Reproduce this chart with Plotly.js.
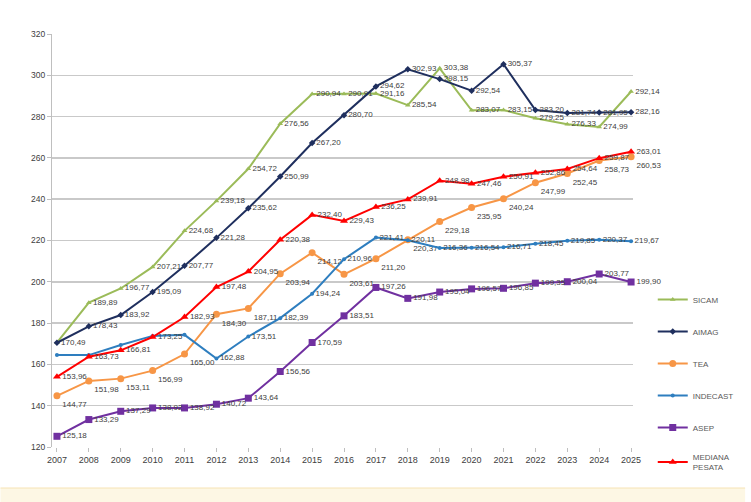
<!DOCTYPE html>
<html>
<head>
<meta charset="utf-8">
<script src="https://cdn.plot.ly/plotly-3.0.1.min.js"></script>
<style>
html,body{margin:0;padding:0;background:#fff;}
#chart{width:751px;height:502px;}
</style>
</head>
<body>
<div id="chart"></div>
<script>
const years = [2007,2008,2009,2010,2011,2012,2013,2014,2015,2016,2017,2018,2019,2020,2021,2022,2023,2024,2025];
const yTicks = [120,140,160,180,200,220,240,260,280,300,320];

const sicam    = [170.49,189.89,196.77,207.21,224.68,239.18,254.72,276.56,290.94,290.91,291.16,285.54,303.38,283.07,283.15,279.25,276.33,274.99,292.14];
const aimag    = [170.49,178.43,183.92,195.09,207.77,221.28,235.62,250.99,267.20,280.70,294.62,302.93,298.15,292.54,305.37,283.20,281.74,281.95,282.16];
const tea      = [144.77,151.98,153.11,156.99,165.00,184.30,187.11,203.94,214.12,203.61,211.20,220.37,229.18,235.95,240.24,247.99,252.45,258.73,260.53];
const indecast = [164.60,164.50,169.40,173.80,174.30,162.88,173.51,182.39,194.24,210.96,221.41,220.11,216.36,216.54,216.71,218.45,219.85,220.37,219.67];
const asep     = [125.18,133.29,137.29,138.92,138.92,140.72,143.64,156.56,170.59,183.51,197.26,191.98,195.04,196.57,196.85,199.35,200.04,203.77,199.90];
const mediana  = [153.96,163.73,166.81,173.25,182.93,197.48,204.95,220.38,232.40,229.43,236.25,239.91,248.98,247.46,250.91,252.86,254.64,259.87,263.01];

const seriesNames = ['SICAM','AIMAG','TEA','INDECAST','ASEP','MEDIANA<br>PESATA'];
// indices of points whose value label is not visible in the reference
const hiddenLabels = [[0], [], [], [0,1,2,3,4], [], []];

function fmt(v){ return v.toFixed(2).replace('.', ','); }

const styles = [
  {color:'#9bbb59', symbol:'triangle-up', size:5, labelPos:'middle right'},
  {color:'#1f2f5e', symbol:'diamond', size:5, labelPos:'middle right'},
  {color:'#f79646', symbol:'circle', size:7, labelPos:'bottom right'},
  {color:'#2e7ebf', symbol:'circle', size:4, labelPos:'middle right'},
  {color:'#7030a0', symbol:'square', size:7, labelPos:'middle right'},
  {color:'#ff0000', symbol:'triangle-up', size:7, labelPos:'middle right'}
];
const allSeries = [sicam, aimag, tea, indecast, asep, mediana];

const traces = allSeries.map((vals, i) => ({
  type:'scatter',
  mode:'lines+markers+text',
  name: seriesNames[i],
  legendgroup: 'g'+i,
  x: years,
  y: vals,
  text: vals.map((v, k) => hiddenLabels[i].includes(k) ? '' : fmt(v)),
  textposition: styles[i].labelPos,
  textfont: {family:'Liberation Sans, Arial, sans-serif', size:8, color:'#404040'},
  line: {color: styles[i].color, width: 2},
  marker: {color: styles[i].color, symbol: styles[i].symbol, size: styles[i].size},
  cliponaxis: false,
  hoverinfo: 'x+y+name'
}));

const layout = {
  width: 751,
  height: 502,
  margin: {l:52, r:113, t:34, b:55},
  paper_bgcolor: '#ffffff',
  plot_bgcolor: '#ffffff',
  font: {family:'Liberation Sans, Arial, sans-serif', color:'#404040'},
  showlegend: true,
  legend: {
    x: 1.034, xanchor:'left',
    y: 0.392, yanchor:'top',
    font: {size:8, color:'#595959'},
    itemwidth: 30,
    tracegroupgap: 13,
    bgcolor: 'rgba(0,0,0,0)'
  },
  xaxis: {
    type: 'linear',
    range: [2006.845, 2025.06],
    tickvals: years,
    ticktext: years.map(String),
    tickfont: {size:9, color:'#404040'},
    ticks: 'outside',
    ticklen: 4,
    tickcolor: '#bfbfbf',
    showgrid: false,
    zeroline: false,
    showline: false
  },
  yaxis: {
    range: [120, 320],
    tickvals: yTicks,
    tickfont: {size:8.5, color:'#404040'},
    ticks: 'outside',
    ticklen: 4,
    tickcolor: '#bfbfbf',
    showgrid: true,
    gridcolor: '#c9c9c9',
    gridwidth: 1.5,
    zeroline: false,
    showline: true,
    linecolor: '#bfbfbf',
    linewidth: 1
  },
  shapes: [
    {type:'rect', xref:'paper', yref:'paper', x0:-0.0887, x1:1.193, y0:-0.133, y1:-0.0993,
     fillcolor:'#fdf7e4', line:{width:0}, layer:'below'},
    {type:'line', xref:'paper', yref:'paper', x0:-0.0887, x1:1.193, y0:-0.0993, y1:-0.0993,
     line:{color:'#f6e3b4', width:1}}
  ]
};

Plotly.newPlot('chart', traces, layout, {displayModeBar:false, staticPlot:true});
</script>
</body>
</html>
